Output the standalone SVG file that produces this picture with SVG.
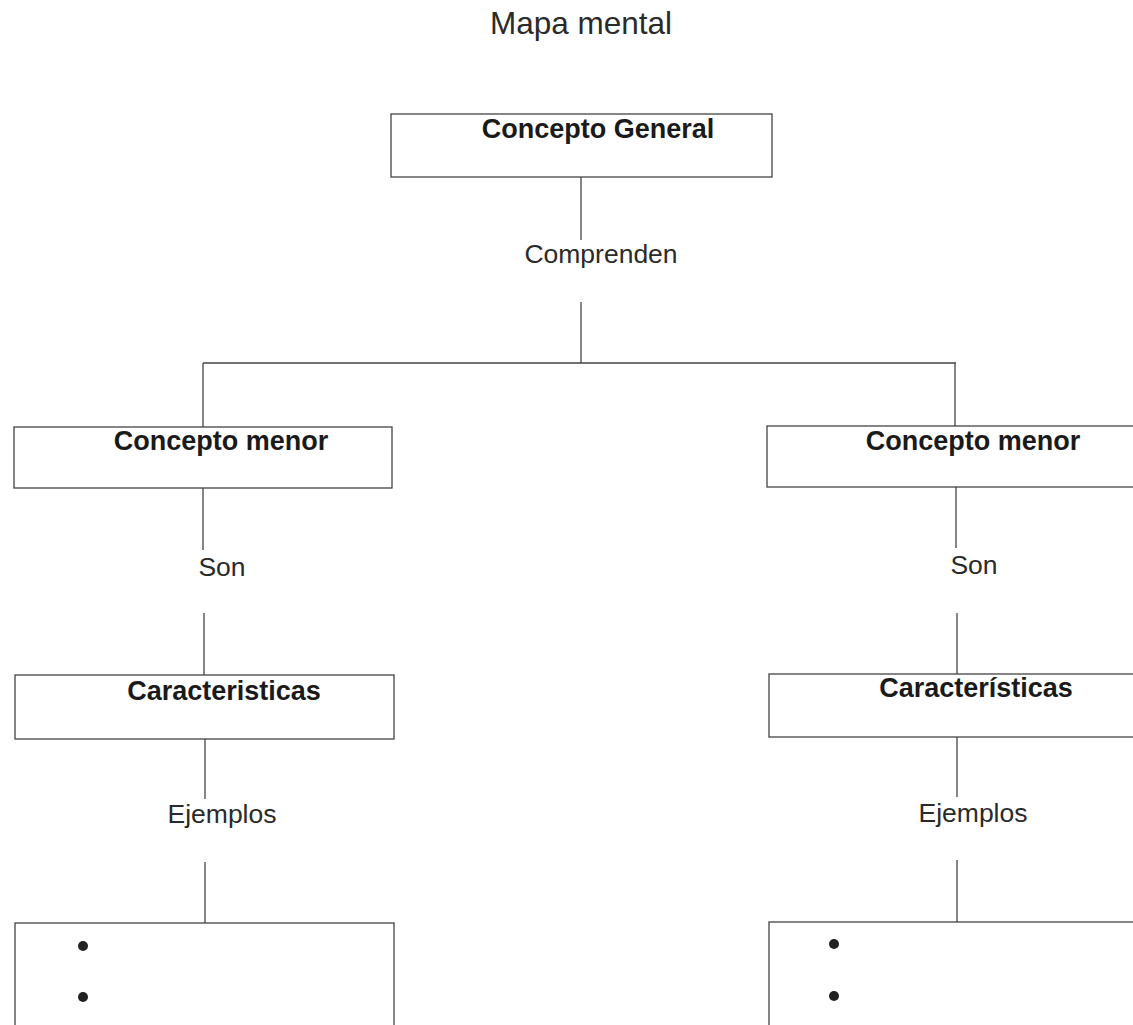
<svg xmlns="http://www.w3.org/2000/svg" width="1133" height="1025" viewBox="0 0 1133 1025">
<style>
.box{fill:#fff;stroke:#444;stroke-width:1.3}
.ln{stroke:#444;stroke-width:1.3;fill:none}
.b{font-family:"Liberation Sans",Arial,sans-serif;font-weight:bold;font-size:27px;fill:#1a1a1a;text-anchor:middle}
.r{font-family:"Liberation Sans",Arial,sans-serif;font-size:26.5px;fill:#2a2a2a;text-anchor:middle}
.t{font-family:"Liberation Sans",Arial,sans-serif;font-size:31.5px;fill:#2a2a2a;text-anchor:middle}
.dot{fill:#222}
</style>
<rect width="1133" height="1025" fill="#fff"/>
<text class="t" x="581" y="34">Mapa mental</text>
<g id="connectors">
<line class="ln" x1="581" y1="177" x2="581" y2="240"/>
<text class="r" x="601" y="263">Comprenden</text>
<line class="ln" x1="581" y1="302" x2="581" y2="363"/>
<line class="ln" x1="203" y1="363" x2="956" y2="363"/>
<line class="ln" x1="203" y1="363" x2="203" y2="427"/>
<line class="ln" x1="955" y1="363" x2="955" y2="426"/>
<line class="ln" x1="203" y1="488" x2="203" y2="550"/>
<text class="r" x="222" y="576">Son</text>
<line class="ln" x1="204" y1="613" x2="204" y2="675"/>
<line class="ln" x1="956" y1="487" x2="956" y2="548"/>
<text class="r" x="974" y="574">Son</text>
<line class="ln" x1="957" y1="613" x2="957" y2="674"/>
<line class="ln" x1="205" y1="739" x2="205" y2="799"/>
<text class="r" x="222" y="823">Ejemplos</text>
<line class="ln" x1="205" y1="862" x2="205" y2="923"/>
<line class="ln" x1="957" y1="737" x2="957" y2="797"/>
<text class="r" x="973" y="822">Ejemplos</text>
<line class="ln" x1="957" y1="860" x2="957" y2="922"/>
</g>
<g id="concepto-general">
<rect class="box" x="391" y="114" width="381" height="63"/>
<text class="b" x="598" y="138">Concepto General</text>
</g>
<g id="concepto-menor-izq">
<rect class="box" x="14" y="427" width="378" height="61"/>
<text class="b" x="221" y="450">Concepto menor</text>
</g>
<g id="concepto-menor-der">
<rect class="box" x="767" y="426" width="400" height="61"/>
<text class="b" x="973" y="450">Concepto menor</text>
</g>
<g id="caracteristicas-izq">
<rect class="box" x="15" y="675" width="379" height="64"/>
<text class="b" x="224" y="700">Caracteristicas</text>
</g>
<g id="caracteristicas-der">
<rect class="box" x="769" y="674" width="400" height="63"/>
<text class="b" x="976" y="697">Características</text>
</g>
<g id="ejemplos-izq">
<rect class="box" x="15" y="923" width="379" height="130"/>
<circle class="dot" cx="83" cy="946" r="5"/>
<circle class="dot" cx="83" cy="997" r="5"/>
</g>
<g id="ejemplos-der">
<rect class="box" x="769" y="922" width="400" height="130"/>
<circle class="dot" cx="834" cy="944" r="5"/>
<circle class="dot" cx="834" cy="996" r="5"/>
</g>
</svg>
